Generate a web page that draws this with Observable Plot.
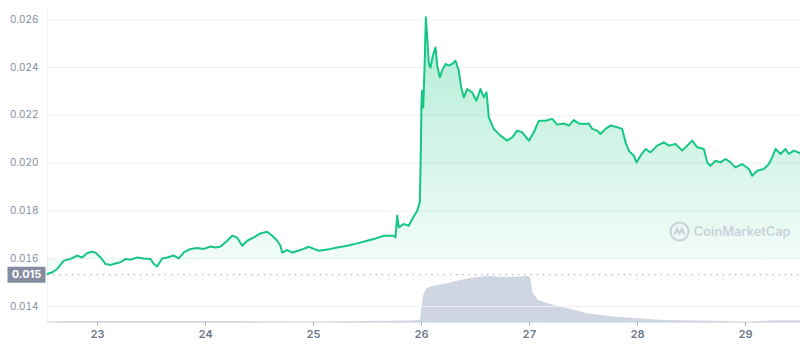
<!DOCTYPE html>
<html>
<head>
<meta charset="utf-8">
<script src="https://cdn.jsdelivr.net/npm/d3@7"></script>
<script src="https://cdn.jsdelivr.net/npm/@observablehq/plot@0.6"></script>
<style>
  html, body { margin: 0; padding: 0; background: #fff; }
  #wrap { position: relative; width: 800px; height: 345px; }
  #wrap svg { position: absolute; left: 0; top: 0; background: transparent; }
</style>
</head>
<body>
<div id="wrap"></div>
<script>
// ---- data (day of month, price in USD) ----
const priceDays = [22.537,22.581,22.627,22.688,22.750,22.812,22.858,22.905,22.951,22.981,23.028,23.074,23.120,23.167,23.213,23.259,23.306,23.368,23.429,23.491,23.521,23.553,23.599,23.645,23.706,23.753,23.799,23.861,23.923,23.984,24.046,24.093,24.139,24.201,24.247,24.294,24.340,24.386,24.447,24.509,24.571,24.618,24.664,24.694,24.710,24.756,24.803,24.880,24.956,25.003,25.049,25.127,25.219,25.312,25.405,25.497,25.558,25.651,25.744,25.759,25.775,25.790,25.836,25.882,25.914,25.960,25.984,25.991,26.000,26.006,26.016,26.028,26.040,26.053,26.068,26.083,26.105,26.130,26.145,26.169,26.191,26.222,26.253,26.284,26.315,26.345,26.367,26.392,26.423,26.469,26.509,26.546,26.577,26.602,26.623,26.669,26.731,26.793,26.840,26.886,26.932,26.994,27.040,27.086,27.148,27.210,27.256,27.318,27.364,27.410,27.456,27.503,27.549,27.581,27.627,27.657,27.704,27.750,27.812,27.858,27.889,27.919,27.966,27.991,28.028,28.074,28.120,28.182,28.244,28.290,28.352,28.414,28.460,28.506,28.553,28.614,28.645,28.676,28.722,28.769,28.815,28.861,28.907,28.969,29.031,29.062,29.108,29.169,29.216,29.247,29.278,29.324,29.370,29.401,29.448,29.509];
const priceValues = [0.01536,0.01543,0.01557,0.01592,0.01599,0.01613,0.01605,0.01624,0.01629,0.01626,0.01605,0.01578,0.01574,0.01580,0.01585,0.01599,0.01596,0.01605,0.01601,0.01599,0.01578,0.01568,0.01601,0.01605,0.01613,0.01601,0.01626,0.01641,0.01645,0.01641,0.01651,0.01647,0.01651,0.01675,0.01696,0.01688,0.01654,0.01675,0.01689,0.01706,0.01713,0.01696,0.01675,0.01654,0.01626,0.01636,0.01626,0.01636,0.01650,0.01641,0.01633,0.01638,0.01647,0.01654,0.01664,0.01675,0.01682,0.01696,0.01696,0.01689,0.01780,0.01731,0.01745,0.01738,0.01766,0.01801,0.01836,0.01982,0.02261,0.02303,0.02233,0.02400,0.02610,0.02526,0.02415,0.02400,0.02449,0.02484,0.02408,0.02359,0.02387,0.02415,0.02408,0.02415,0.02428,0.02387,0.02317,0.02275,0.02310,0.02296,0.02261,0.02310,0.02275,0.02296,0.02191,0.02143,0.02115,0.02094,0.02108,0.02136,0.02129,0.02094,0.02129,0.02177,0.02177,0.02185,0.02161,0.02166,0.02157,0.02180,0.02166,0.02164,0.02166,0.02143,0.02136,0.02122,0.02143,0.02157,0.02150,0.02143,0.02087,0.02052,0.02031,0.02003,0.02031,0.02059,0.02045,0.02073,0.02087,0.02073,0.02080,0.02052,0.02073,0.02094,0.02066,0.02059,0.02003,0.01989,0.02010,0.02003,0.02017,0.02003,0.01982,0.01996,0.01975,0.01947,0.01968,0.01975,0.01996,0.02024,0.02059,0.02038,0.02059,0.02038,0.02052,0.02041];

// ---- volume (relative units) ----
const volumeDays   = [22.537,22.69,23.5,24.2,25.0,25.5,25.9,25.97,25.99,26.02,26.05,26.11,26.24,26.36,26.48,26.61,26.73,26.86,26.98,27.01,27.03,27.08,27.23,27.36,27.54,27.73,27.94,28.25,28.71,29.02,29.27,29.509];
const volumeValues = [0.3,1,1,1,0.5,1,1.5,2,2,27,33.7,36.3,38.7,42,44.3,46.3,45.3,45.3,46,45,30.3,22,17,13.7,8.7,6,4.3,2,1.3,0.3,1.7,1.7];

// ---- ticks & labels ----
const yTicks = [0.014, 0.016, 0.018, 0.020, 0.022, 0.024, 0.026];
const xTicks = [23, 24, 25, 26, 27, 28, 29];
const startPrice = 0.01533;
const startLabel = "0.015";
const watermark = "CoinMarketCap";

const xDomain = [22.537, 29.509];
const yDomain = [0.01333, 0.026385];
const areaBase = 0.01595;

const prices = priceDays.map((d, i) => ({d, p: priceValues[i]}));
const volumes = volumeDays.map((d, i) => ({d, v: volumeValues[i]}));

const common = {
  width: 800, height: 345,
  marginLeft: 47, marginRight: 0, marginTop: 10, marginBottom: 23,
  style: {fontFamily: "Inter, 'Open Sans', sans-serif", background: "transparent", overflow: "visible"}
};

// Volume layer (own y scale)
const volPlot = Plot.plot({
  ...common,
  x: {domain: xDomain, axis: null},
  y: {domain: [0, 312], axis: null},
  marks: [
    Plot.areaY(volumes, {x: "d", y: "v", fill: "#cfd5e3"})
  ]
});

const gradientDef = () => {
  const ns = "http://www.w3.org/2000/svg";
  const defs = document.createElementNS(ns, "defs");
  defs.innerHTML = '<linearGradient id="pg" x1="0" y1="0" x2="0" y2="1">' +
    '<stop offset="0" stop-color="#16c784" stop-opacity="0.34"/>' +
    '<stop offset="1" stop-color="#16c784" stop-opacity="0.04"/></linearGradient>';
  return defs;
};

const boxSymbol = {
  draw(ctx) {
    ctx.moveTo(-19, -8); ctx.lineTo(19, -8); ctx.lineTo(19, 8); ctx.lineTo(-19, 8); ctx.closePath();
  }
};
const logoSymbol = {
  draw(ctx) {
    ctx.moveTo(-5, 3); ctx.lineTo(-2.5, -2.5); ctx.lineTo(0, 2); ctx.lineTo(2.5, -2.5); ctx.lineTo(5, 3);
  }
};

const pricePlot = Plot.plot({
  ...common,
  x: {domain: xDomain},
  y: {domain: yDomain},
  marks: [
    gradientDef,
    Plot.gridY(yTicks, {stroke: "#eef0f4", strokeOpacity: 1}),
    Plot.ruleX([xDomain[0]], {stroke: "#f0f1f4"}),
    Plot.ruleY([yDomain[0]], {stroke: "#dfe3ea"}),
    Plot.areaY(prices, {x: "d", y1: areaBase, y2: "p", fill: "url(#pg)"}),
    Plot.ruleY([startPrice], {stroke: "#a7adbb", strokeDasharray: "1.2,5", strokeWidth: 1.2}),
    Plot.lineY(prices, {x: "d", y: "p", stroke: "#16c784", strokeWidth: 2}),
    Plot.axisY(yTicks, {tickFormat: d3.format(".3f"), tickSize: 0, tickPadding: 9, fill: "#858d9f", fontSize: 10, label: null}),
    Plot.axisX(xTicks, {tickFormat: d => String(d), tickSize: 4, tickPadding: 4, fill: "#6f7889", stroke: "#aab2c2", fontSize: 11, fontWeight: 600, label: null}),
    Plot.dot([startPrice], {y: d => d, frameAnchor: "left", dx: -21, symbol: boxSymbol, fill: "#858ca0", stroke: null}),
    Plot.text([startLabel], {y: () => startPrice, text: d => d, frameAnchor: "left", textAnchor: "middle", dx: -21, fill: "#fff", fontSize: 11, fontWeight: 700}),
    Plot.dot([watermark], {frameAnchor: "right", dx: -121, dy: 65, r: 9, stroke: "#cbd1db", strokeWidth: 2.2, fill: "none"}),
    Plot.dot([watermark], {frameAnchor: "right", dx: -121, dy: 65, symbol: logoSymbol, stroke: "#cbd1db", strokeWidth: 2.2, fill: "none"}),
    Plot.text([watermark], {text: d => d, frameAnchor: "right", textAnchor: "end", dx: -10, dy: 65, fill: "#cbd1db", fontSize: 12.8, fontWeight: 600})
  ]
});

const wrap = document.getElementById("wrap");
wrap.appendChild(volPlot);
wrap.appendChild(pricePlot);
</script>
</body>
</html>
